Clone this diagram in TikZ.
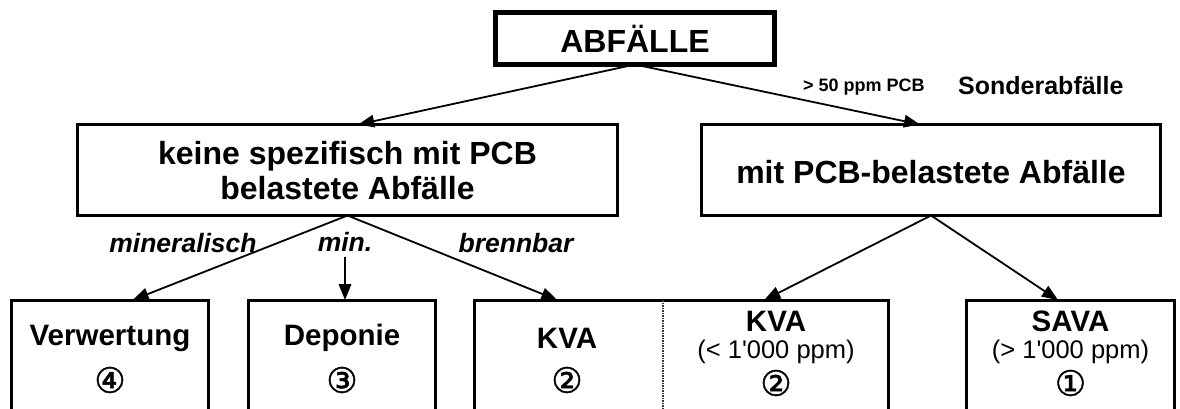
\documentclass[tikz,border=0pt]{standalone}
\usepackage{fontspec}
\setmainfont{Liberation Sans}
% plain family without TeX ligatures keeps the straight apostrophe
\newfontfamily\plainsans{Liberation Sans}
\newfontfamily\circfont{DejaVu Sans}[FakeBold=1.2]
\usetikzlibrary{arrows.meta,calc}

\tikzset{
  frame/.style={draw, line width=3pt, inner sep=0pt, outer sep=0pt},
  mainfrm/.style={frame, line width=5pt},
  txt/.style={inner sep=0pt, align=center, font=\bfseries\fontsize{32}{35}\selectfont},
  boxtxt/.style={inner sep=0pt, align=center, font=\bfseries\fontsize{29.5}{33}\selectfont},
  subtxt/.style={inner sep=0pt, font=\plainsans\fontsize{25.5}{29}\selectfont},
  circ/.style={inner sep=0pt, font=\circfont\fontsize{35}{38}\selectfont},
  branch/.style={inner sep=0pt, font=\bfseries\itshape\fontsize{26.5}{30}\selectfont},
  link/.style={line width=1.8pt, -{Triangle[length=16pt,width=12.5pt]}},
  divider/.style={line width=2pt, dash pattern=on 1.5pt off 1pt, black!80}
}

\begin{document}
\begin{tikzpicture}[x=1pt,y=-1pt]
\useasboundingbox (0,0) rectangle (1180,408);
\clip (0,0) rectangle (1180,408);

% top level
\node[mainfrm, minimum width=279pt, minimum height=52pt] (top) at (635,38.5) {};
\node[txt] (toptxt) at (635,39) {ABFÄLLE};

% second level
\node[frame, minimum width=540pt, minimum height=91pt] (keine) at (347.5,170) {};
\node[txt] (keinetxt) at (347.5,171) {keine spezifisch mit PCB\\belastete Abfälle};
\node[frame, minimum width=459pt, minimum height=91pt] (mit) at (931,170) {};
\node[txt] (mittxt) at (931,172) {mit PCB-belastete Abfälle};

\node[inner sep=0pt, anchor=west, font=\bfseries\fontsize{18}{21}\selectfont] (ppm) at (803,87) {> 50 ppm PCB};
\node[inner sep=0pt, anchor=west, font=\bfseries\fontsize{25}{28}\selectfont] (sonder) at (958,86) {Sonderabfälle};

% third level
\node[frame, minimum width=197pt, minimum height=140pt] (verw) at (110,370) {};
\node[frame, minimum width=187pt, minimum height=140pt] (dep) at (342,370) {};
\node[frame, minimum width=414pt, minimum height=140pt] (kva) at (681.5,370) {};
\node[frame, minimum width=208pt, minimum height=140pt] (sava) at (1070.5,370) {};

\coordinate (split) at ($(kva.north west)!0.456!(kva.north east)$);
\draw[divider] (split) -- ++(0,120);

\node[boxtxt] (verwtxt) at (110,338) {Verwertung};
\node[circ] (verwnr) at (110,380) {④};
\node[boxtxt] (deptxt) at (342,338) {Deponie};
\node[circ] (depnr) at (342,380) {③};
\node[boxtxt] (kvaltxt) at (567,338) {KVA};
\node[circ] (kvalnr) at (567,380) {②};
\node[boxtxt] (kvartxt) at (776,321) {KVA};
\node[subtxt] (kvarppm) at (776,352) {(< 1'000 ppm)};
\node[circ] (kvarnr) at (776,383) {②};
\node[boxtxt] (savatxt) at (1070.5,321) {SAVA};
\node[subtxt] (savappm) at (1070.5,352) {(> 1'000 ppm)};
\node[circ] (savanr) at (1070.5,383) {①};

% branch labels
\node[branch] (mineral) at (183,243) {mineralisch};
\node[branch] (minlab) at (345,242) {min.};
\node[branch] (brenn) at (516,243) {brennbar};

% connectors
\draw[link] (top.south) -- ($(keine.north west)!0.52!(keine.north east)$);
\draw[link] (top.south) -- ($(mit.north west)!0.476!(mit.north east)$);
\draw[link] (keine.south) -- ($(verw.north west)!0.615!(verw.north east)$);
\draw[link] ([yshift=-5pt]minlab.south) -- (minlab.south |- dep.north);
\draw[link] (keine.south) -- ($(kva.north west)!0.2!(kva.north east)$);
\draw[link] (mit.south) -- ($(kva.north west)!0.7!(kva.north east)$);
\draw[link] (mit.south) -- ($(sava.north west)!0.44!(sava.north east)$);
\end{tikzpicture}
\end{document}
